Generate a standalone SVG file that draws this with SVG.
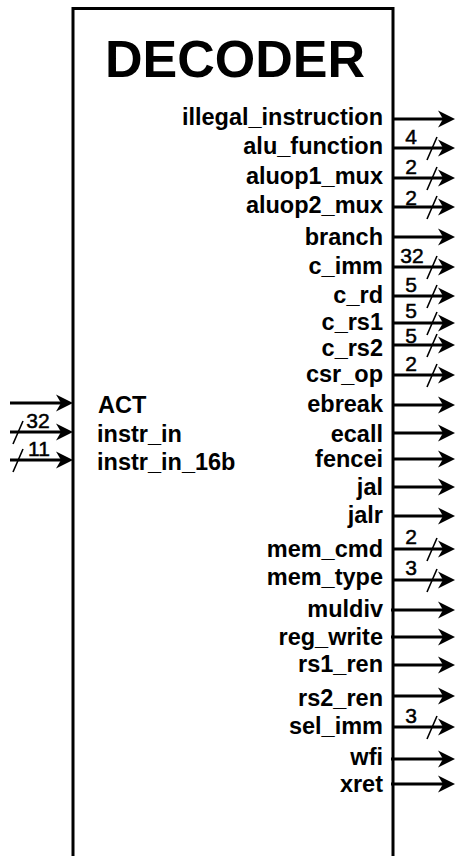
<svg xmlns="http://www.w3.org/2000/svg" xmlns:xlink="http://www.w3.org/1999/xlink" width="455" height="856" viewBox="0 0 455 856">
  <style>
    .blk { fill: none; stroke: #000; stroke-width: 3; }
    .wire { stroke: #000; stroke-width: 3; fill: none; }
    .slash { stroke: #000; stroke-width: 1.6; fill: none; }
    .title { font-family: "Liberation Sans", Arial, sans-serif; font-weight: bold; font-size: 52px; fill: #000; }
    .port { font-family: "Liberation Sans", Arial, sans-serif; font-weight: bold; font-size: 23.5px; fill: #000; }
    .out { text-anchor: end; }
    .bw { font-family: "Liberation Sans", Arial, sans-serif; font-size: 21px; fill: #000; stroke: #000; stroke-width: 0.5; text-anchor: middle; }
  </style>
  <defs>
    <!-- notched arrowhead, tip at origin pointing right -->
    <path id="ah" d="M0,0 L-17,-8.5 L-12,0 L-17,8.5 Z" fill="#000"/>
  </defs>
  <rect width="455" height="856" fill="#fff"/>

  <!-- decoder block (open at the bottom) -->
  <g id="decoder">
    <path class="blk" d="M73,860 L73,8.5 L393,8.5 L393,860"/>
    <text class="title" x="235" y="77" text-anchor="middle">DECODER</text>
  </g>

  <!-- input ports -->
  <g id="in-act">
    <text class="port" x="98" y="413">ACT</text>
  </g>
  <g id="in-instr_in">
    <text class="port" x="97" y="442">instr_in</text>
  </g>
  <g id="in-instr_in_16b">
    <text class="port" x="97" y="470">instr_in_16b</text>
  </g>

  <!-- output ports -->
  <g id="out-illegal_instruction"><text class="port out" x="383" y="125">illegal_instruction</text></g>
  <g id="out-alu_function"><text class="port out" x="383" y="154">alu_function</text></g>
  <g id="out-aluop1_mux"><text class="port out" x="383" y="184">aluop1_mux</text></g>
  <g id="out-aluop2_mux"><text class="port out" x="383" y="213">aluop2_mux</text></g>
  <g id="out-branch"><text class="port out" x="383" y="245">branch</text></g>
  <g id="out-c_imm"><text class="port out" x="383" y="274">c_imm</text></g>
  <g id="out-c_rd"><text class="port out" x="383" y="303">c_rd</text></g>
  <g id="out-c_rs1"><text class="port out" x="383" y="330">c_rs1</text></g>
  <g id="out-c_rs2"><text class="port out" x="383" y="356">c_rs2</text></g>
  <g id="out-csr_op"><text class="port out" x="383" y="382">csr_op</text></g>
  <g id="out-ebreak"><text class="port out" x="383" y="412">ebreak</text></g>
  <g id="out-ecall"><text class="port out" x="383" y="442">ecall</text></g>
  <g id="out-fencei"><text class="port out" x="383" y="467">fencei</text></g>
  <g id="out-jal"><text class="port out" x="383" y="495">jal</text></g>
  <g id="out-jalr"><text class="port out" x="383" y="523">jalr</text></g>
  <g id="out-mem_cmd"><text class="port out" x="383" y="557">mem_cmd</text></g>
  <g id="out-mem_type"><text class="port out" x="383" y="585">mem_type</text></g>
  <g id="out-muldiv"><text class="port out" x="383" y="617">muldiv</text></g>
  <g id="out-reg_write"><text class="port out" x="383" y="645">reg_write</text></g>
  <g id="out-rs1_ren"><text class="port out" x="383" y="672">rs1_ren</text></g>
  <g id="out-rs2_ren"><text class="port out" x="383" y="706">rs2_ren</text></g>
  <g id="out-sel_imm"><text class="port out" x="383" y="734">sel_imm</text></g>
  <g id="out-wfi"><text class="port out" x="383" y="765">wfi</text></g>
  <g id="out-xret"><text class="port out" x="383" y="792">xret</text></g>

  <!-- connectors -->
  <g id="connectors">
    <!-- inputs -->
    <path class="wire" d="M10,403 H62 M10,432 H62 M10,460 H62"/>
    <use xlink:href="#ah" x="73" y="403"/>
    <use xlink:href="#ah" x="73" y="432"/>
    <use xlink:href="#ah" x="73" y="460"/>
    <path class="slash" d="M13,444 L23,421 M13,472 L23,449"/>
    <text class="bw" x="38" y="428">32</text>
    <text class="bw" x="39" y="456">11</text>

    <!-- outputs -->
    <path class="wire" d="M393,119 H444 M393,148 H444 M393,178 H444 M393,207 H444 M393,237 H444 M393,267 H444 M393,296 H444 M393,323 H444 M393,345 H444 M393,375 H444 M393,405 H444 M393,433 H444 M393,459 H444 M393,487 H444 M393,516 H444 M393,549 H444 M393,580 H444 M391,610 H444 M391,637 H444 M393,665 H444 M393,696 H444 M393,727 H444 M391,759 H444 M391,784 H444"/>
    <use xlink:href="#ah" x="455" y="119"/>
    <use xlink:href="#ah" x="455" y="148"/>
    <use xlink:href="#ah" x="455" y="178"/>
    <use xlink:href="#ah" x="455" y="207"/>
    <use xlink:href="#ah" x="455" y="237"/>
    <use xlink:href="#ah" x="455" y="267"/>
    <use xlink:href="#ah" x="455" y="296"/>
    <use xlink:href="#ah" x="455" y="323"/>
    <use xlink:href="#ah" x="455" y="345"/>
    <use xlink:href="#ah" x="455" y="375"/>
    <use xlink:href="#ah" x="455" y="405"/>
    <use xlink:href="#ah" x="455" y="433"/>
    <use xlink:href="#ah" x="455" y="459"/>
    <use xlink:href="#ah" x="455" y="487"/>
    <use xlink:href="#ah" x="455" y="516"/>
    <use xlink:href="#ah" x="455" y="549"/>
    <use xlink:href="#ah" x="455" y="580"/>
    <use xlink:href="#ah" x="455" y="610"/>
    <use xlink:href="#ah" x="455" y="637"/>
    <use xlink:href="#ah" x="455" y="665"/>
    <use xlink:href="#ah" x="455" y="696"/>
    <use xlink:href="#ah" x="455" y="727"/>
    <use xlink:href="#ah" x="455" y="759"/>
    <use xlink:href="#ah" x="455" y="784"/>

    <!-- bus width marks -->
    <path class="slash" d="M427,160 L437,137 M427,190 L437,167 M427,219 L437,196 M427,279 L437,256 M427,308 L437,285 M427,335 L437,312 M427,357 L437,334 M427,387 L437,364 M427,561 L437,538 M427,592 L437,569 M427,739 L437,716"/>
    <text class="bw" x="411" y="144">4</text>
    <text class="bw" x="411" y="174">2</text>
    <text class="bw" x="411" y="205">2</text>
    <text class="bw" x="412" y="263">32</text>
    <text class="bw" x="411" y="292">5</text>
    <text class="bw" x="411" y="318">5</text>
    <text class="bw" x="411" y="343">5</text>
    <text class="bw" x="411" y="371">2</text>
    <text class="bw" x="411" y="544">2</text>
    <text class="bw" x="411" y="575">3</text>
    <text class="bw" x="411" y="723">3</text>
  </g>
</svg>
